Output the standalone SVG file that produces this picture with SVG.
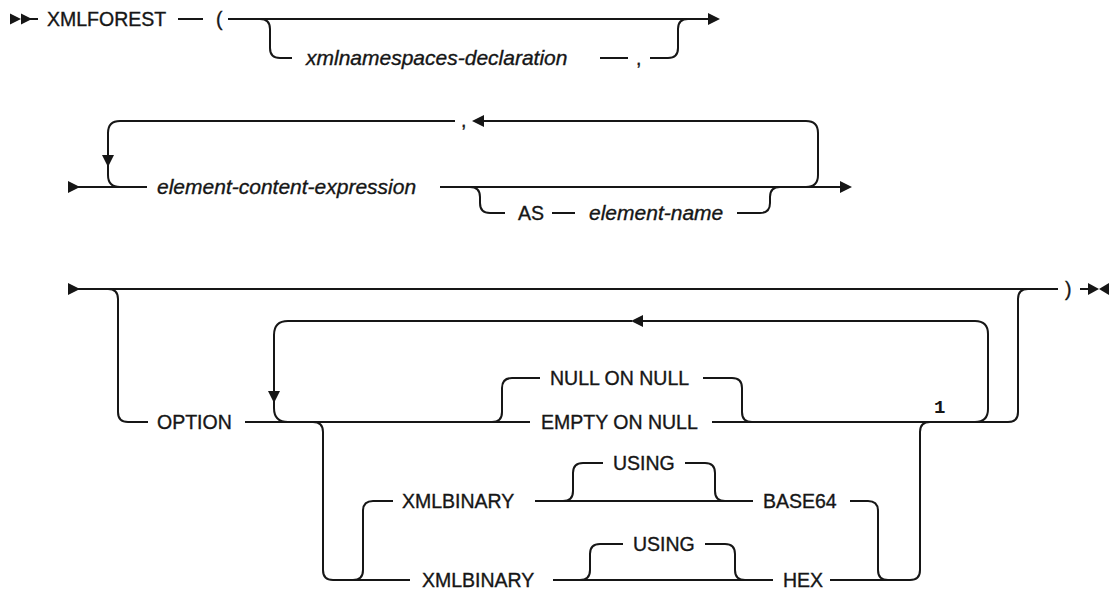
<svg xmlns="http://www.w3.org/2000/svg" width="1109" height="590" viewBox="0 0 1109 590">
<style>
.ln{fill:none;stroke:#161616;stroke-width:2}
.ah{fill:#161616;stroke:none}
.t{font-family:"Liberation Sans",Arial,sans-serif;font-size:19.5px;fill:#161616;stroke:#161616;stroke-width:0.35}
.i{font-style:italic;font-size:21px}
.fn{font-family:"Liberation Mono","Courier New",monospace;font-size:19px;font-weight:bold;fill:#161616}
</style>
<rect width="1109" height="590" fill="#ffffff"/>
<g id="connectors">
<polygon class="ah" points="10,13.5 21,19 10,24.5"/>
<polygon class="ah" points="21,13.5 32,19 21,24.5"/>
<path class="ln" d="M21,19 H38"/>
<path class="ln" d="M178,19 H203"/>
<path class="ln" d="M228,19 H709"/>
<polygon class="ah" points="708,13 720,19 708,25"/>
<path class="ln" d="M260,19 Q270,19 270,29 V48 Q270,58 280,58 H292"/>
<path class="ln" d="M600,58 H628"/>
<path class="ln" d="M650,58 H668 Q678,58 678,48 V29 Q678,19 688,19"/>
<polygon class="ah" points="68,181 80,187 68,193"/>
<path class="ln" d="M75,187 H147"/>
<path class="ln" d="M455,121 H120 Q108,121 108,133 V175 Q108,187 120,187"/>
<polygon class="ah" points="102,155 114,155 108,167"/>
<path class="ln" d="M806,187 Q818,187 818,175 V133 Q818,121 806,121 H482"/>
<polygon class="ah" points="484,115 472,121 484,127"/>
<path class="ln" d="M440,187 H841"/>
<polygon class="ah" points="840,181 852,187 840,193"/>
<path class="ln" d="M470,187 Q480,187 480,197 V203 Q480,213 490,213 H505"/>
<path class="ln" d="M552,213 H575"/>
<path class="ln" d="M737,213 H760 Q770,213 770,203 V197 Q770,187 780,187"/>
<polygon class="ah" points="68,283 80,289 68,295"/>
<path class="ln" d="M75,289 H1058"/>
<path class="ln" d="M108,289 Q118,289 118,299 V412 Q118,422 128,422 H148"/>
<path class="ln" d="M245,422 H530"/>
<path class="ln" d="M712,422 H1008 Q1018,422 1018,412 V299 Q1018,289 1028,289"/>
<path class="ln" d="M975,422 Q988,422 988,409 V334 Q988,321 975,321 H642"/>
<polygon class="ah" points="643,315 631,321 643,327"/>
<path class="ln" d="M632,321 H288 Q274,321 274,335 V408 Q274,422 288,422"/>
<polygon class="ah" points="268,391 280,391 274,403"/>
<path class="ln" d="M492,422 Q502,422 502,412 V388 Q502,378 512,378 H540"/>
<path class="ln" d="M703,378 H732 Q742,378 742,388 V412 Q742,422 752,422"/>
<path class="ln" d="M313,422 Q323,422 323,432 V570 Q323,580 333,580 H410"/>
<path class="ln" d="M353,580 Q363,580 363,570 V511 Q363,501 373,501 H393"/>
<path class="ln" d="M535,501 H753"/>
<path class="ln" d="M850,501 H868 Q878,501 878,511 V570 Q878,580 888,580"/>
<path class="ln" d="M563,501 Q573,501 573,491 V473 Q573,463 583,463 H603"/>
<path class="ln" d="M685,463 H705 Q715,463 715,473 V491 Q715,501 725,501"/>
<path class="ln" d="M553,580 H773"/>
<path class="ln" d="M830,580 H910 Q920,580 920,570 V432 Q920,422 930,422"/>
<path class="ln" d="M580,580 Q590,580 590,570 V554 Q590,544 600,544 H623"/>
<path class="ln" d="M705,544 H725 Q735,544 735,554 V570 Q735,580 745,580"/>
<path class="ln" d="M1080,289 H1092"/>
<polygon class="ah" points="1088,283 1099,289 1088,295"/>
<polygon class="ah" points="1109,283 1099,289 1109,295"/>
</g>
<g id="n-xmlforest"><text class="t" x="47" y="26">XMLFOREST</text></g>
<g id="n-lparen"><text class="t" x="216" y="26">(</text></g>
<g id="n-nsdecl"><text class="t i" x="306" y="65">xmlnamespaces-declaration</text></g>
<g id="n-comma1"><text class="t" x="636" y="65">,</text></g>
<g id="n-comma2"><text class="t" x="461" y="127">,</text></g>
<g id="n-ece"><text class="t i" x="157" y="194">element-content-expression</text></g>
<g id="n-as"><text class="t" x="518" y="220">AS</text></g>
<g id="n-elname"><text class="t i" x="589" y="220">element-name</text></g>
<g id="n-option"><text class="t" x="157" y="429">OPTION</text></g>
<g id="n-nullonnull"><text class="t" x="550" y="385">NULL ON NULL</text></g>
<g id="n-emptyonnull"><text class="t" x="541" y="429">EMPTY ON NULL</text></g>
<g id="n-xmlbinary1"><text class="t" x="402" y="508">XMLBINARY</text></g>
<g id="n-using1"><text class="t" x="613" y="470">USING</text></g>
<g id="n-base64"><text class="t" x="763" y="508">BASE64</text></g>
<g id="n-xmlbinary2"><text class="t" x="422" y="587">XMLBINARY</text></g>
<g id="n-using2"><text class="t" x="633" y="551">USING</text></g>
<g id="n-hex"><text class="t" x="783" y="587">HEX</text></g>
<g id="n-fn1"><text class="fn" x="934" y="413">1</text></g>
<g id="n-rparen"><text class="t" x="1065" y="296">)</text></g>
</svg>
